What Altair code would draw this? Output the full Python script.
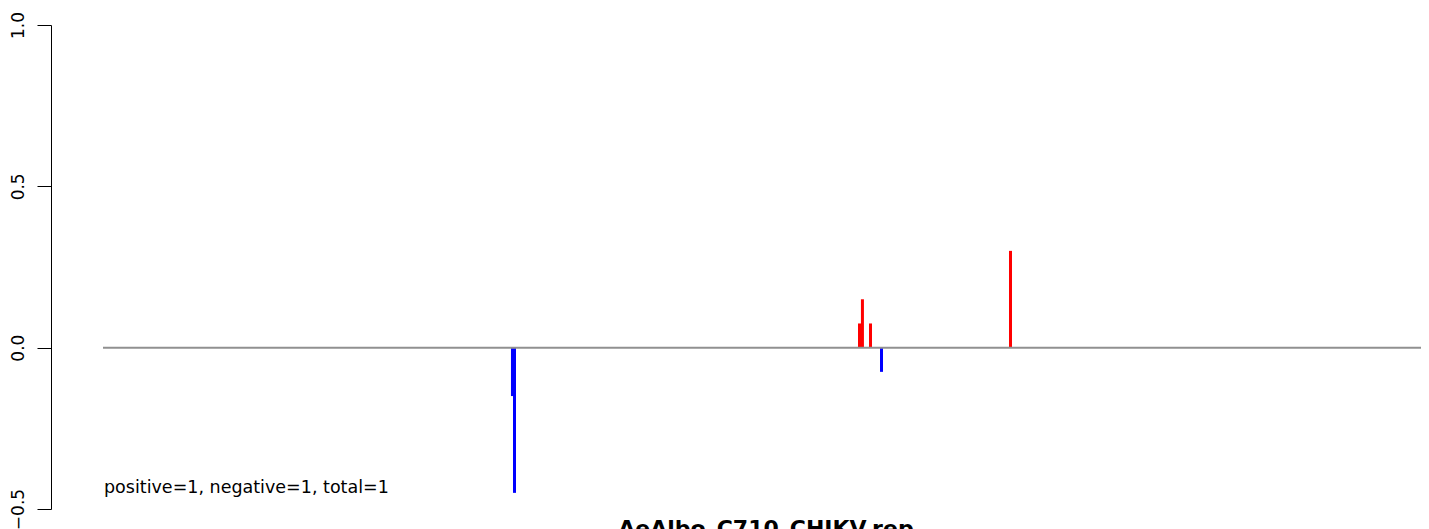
import altair as alt
import pandas as pd

# Data
positions = [3647, 3665, 6738, 6764, 6836, 6934, 8083]
values = [-0.15, -0.45, 0.075, 0.15, 0.075, -0.075, 0.30]
colors = ["#0000FF", "#0000FF", "#FF0000", "#FF0000", "#FF0000", "#0000FF", "#FF0000"]
genome_start = 0
genome_length = 11810      # full extent the title is centred over
visible_end = 11739        # part of the axis that fits in the window
y_min, y_max = -0.5, 1.0
y_ticks = [-0.5, 0.0, 0.5, 1.0]
annotation = "positive=1, negative=1, total=1"
title_text = "AeAlbo_C710_CHIKV.rep"

bars_df = pd.DataFrame({"pos": positions, "value": values, "color": colors})
line_df = pd.DataFrame({"x0": [genome_start], "x1": [visible_end], "y": [0.0]})
text_df = pd.DataFrame({"x": [genome_start], "y": [-0.45], "label": [annotation]})
title_df = pd.DataFrame({"x": [(genome_start + genome_length) / 2], "y": [y_min], "label": [title_text]})

xscale = alt.Scale(domain=[genome_start, visible_end], nice=False, zero=False, padding=0)
yscale = alt.Scale(domain=[y_min, y_max], nice=False, padding=0)

yaxis = alt.Axis(
    values=y_ticks,
    labelExpr="replace(format(datum.value, '.1f'), '-', '\u2212')",
    title=None,
    grid=False,
    domainColor="black",
    domainWidth=1,
    tickColor="black",
    tickWidth=1,
    tickSize=14,
    offset=52,
    labelAngle=270,
    labelAlign="center",
    labelBaseline="middle",
    labelPadding=19,
    labelFont="DejaVu Sans",
    labelFontSize=17,
    labelColor="black",
    labelOverlap=False,
    labelFlush=False,
)

bars = alt.Chart(bars_df).mark_bar(size=3).encode(
    x=alt.X("pos:Q", scale=xscale, axis=None),
    y=alt.Y("value:Q", scale=yscale, axis=yaxis),
    color=alt.Color("color:N", scale=None),
)

zero_line = alt.Chart(line_df).mark_rule(color="#909090", strokeWidth=2).encode(
    x=alt.X("x0:Q", scale=xscale),
    x2="x1:Q",
    y=alt.Y("y:Q", scale=yscale, axis=yaxis),
)

text = alt.Chart(text_df).mark_text(
    align="left", baseline="alphabetic", dx=1, font="DejaVu Sans", fontSize=17.5, color="black"
).encode(
    x=alt.X("x:Q", scale=xscale),
    y=alt.Y("y:Q", scale=yscale, axis=yaxis),
    text="label:N",
)

title = alt.Chart(title_df).mark_text(
    align="center", baseline="top", dy=10, font="DejaVu Sans", fontSize=22,
    fontWeight="bold", color="black"
).encode(
    x=alt.X("x:Q", scale=xscale),
    y=alt.Y("y:Q", scale=yscale, axis=yaxis),
    text="label:N",
)

chart = (
    alt.layer(bars, zero_line, text, title)
    .properties(
        width=1318,
        height=484,
        autosize=alt.AutoSizeParams(type="none"),
        padding={"left": 95, "top": 17, "right": 0, "bottom": 20},
    )
    .configure_view(stroke=None)
    .configure_axisY(
        labelAngle=270,
        labelAlign="center",
        labelBaseline="middle",
        labelPadding=19,
        labelFont="DejaVu Sans",
        labelFontSize=17,
        tickSize=14,
        domainColor="black",
        tickColor="black",
        labelColor="black",
        grid=False,
    )
)

chart.save("out.html", embed_options={"renderer": "svg", "actions": False})
